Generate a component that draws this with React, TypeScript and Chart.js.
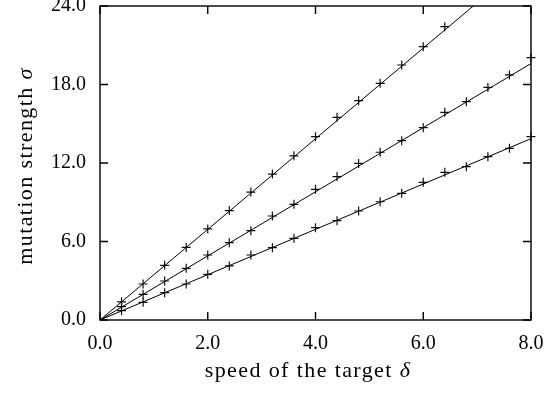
import React, { useEffect, useRef } from "react";
import { Chart, registerables } from "chart.js";

Chart.register(...registerables);

// Measured (marker) data
const xs = [0.4, 0.8, 1.2, 1.6, 2.0, 2.4, 2.8, 3.2, 3.6, 4.0, 4.4, 4.8, 5.2, 5.6, 6.0, 6.4, 6.8, 7.2, 7.6, 8.0];
const topSeries = [1.39, 2.75, 4.18, 5.55, 6.96, 8.36, 9.78, 11.15, 12.55, 14.01, 15.49, 16.76, 18.09, 19.49, 20.89, 22.42];
const midSeries = [1.02, 1.96, 2.98, 3.95, 4.97, 5.91, 6.83, 7.95, 8.84, 9.99, 10.96, 11.97, 12.82, 13.71, 14.70, 15.87, 16.69, 17.78, 18.73, 20.05];
const lowSeries = [0.71, 1.35, 2.09, 2.75, 3.49, 4.13, 4.97, 5.53, 6.24, 7.06, 7.59, 8.33, 9.04, 9.68, 10.52, 11.29, 11.72, 12.48, 13.12, 14.01];

// Fitted lines (endpoints)
const fitX = [0, 8];
const fitTop = [0, 27.71];
const fitMid = [0, 19.6];
const fitLow = [0, 13.86];

const xTicks = [0, 2, 4, 6, 8];
const yTicks = [0, 6, 12, 18, 24];

const FONT = "'Liberation Serif', 'DejaVu Serif', serif";

const pts = (x: number[], y: number[]) => y.map((v, i) => ({ x: x[i], y: v }));

const framePlugin = {
  id: "frame",
  afterDraw(chart: any) {
    const { ctx, chartArea } = chart;
    const { left, right, top, bottom } = chartArea;
    const xs = chart.scales.x;
    const ys = chart.scales.y;
    ctx.save();
    ctx.strokeStyle = "#000";
    ctx.lineWidth = 1.4;
    ctx.strokeRect(left, top, right - left, bottom - top);
    const tl = 8;
    ctx.beginPath();
    xTicks.forEach((v) => {
      const px = xs.getPixelForValue(v);
      ctx.moveTo(px, bottom);
      ctx.lineTo(px, bottom - tl);
      ctx.moveTo(px, top);
      ctx.lineTo(px, top + tl);
    });
    yTicks.forEach((v) => {
      const py = ys.getPixelForValue(v);
      ctx.moveTo(left, py);
      ctx.lineTo(left + tl, py);
      ctx.moveTo(right, py);
      ctx.lineTo(right - tl, py);
    });
    ctx.stroke();

    // axis titles with italic greek
    ctx.fillStyle = "#000";
    ctx.textBaseline = "alphabetic";
    const drawMixed = (plain: string, greek: string, size: number, spacing: number) => {
      (ctx as any).letterSpacing = `${spacing}px`;
      ctx.font = `${size}px ${FONT}`;
      const w1 = ctx.measureText(plain).width;
      ctx.font = `italic ${size}px ${FONT}`;
      const w2 = ctx.measureText(greek).width;
      const total = w1 + w2;
      ctx.font = `${size}px ${FONT}`;
      ctx.textAlign = "left";
      ctx.fillText(plain, -total / 2, 0);
      ctx.font = `italic ${size}px ${FONT}`;
      ctx.fillText(greek, -total / 2 + w1, 0);
      (ctx as any).letterSpacing = "0px";
    };
    ctx.save();
    ctx.translate(308, 377);
    drawMixed("speed of the target ", "δ", 22, 1.4);
    ctx.restore();
    ctx.save();
    ctx.translate(32, 166);
    ctx.rotate(-Math.PI / 2);
    drawMixed("mutation strength ", "σ", 22, 1.4);
    ctx.restore();
    ctx.restore();
  },
};

export default function App() {
  const ref = useRef<HTMLCanvasElement>(null);
  useEffect(() => {
    document.body.style.margin = "0";
    const lineStyle = {
      showLine: true,
      borderColor: "#000",
      borderWidth: 1,
      pointRadius: 0,
      fill: false,
    };
    const markStyle = {
      showLine: false,
      pointStyle: "cross" as const,
      pointRadius: 4.5,
      borderColor: "#111",
      pointBorderWidth: 1.2,
      clip: false as const,
    };
    const chart = new Chart(ref.current!, {
      type: "scatter",
      data: {
        datasets: [
          { data: pts(fitX, fitTop), ...lineStyle },
          { data: pts(fitX, fitMid), ...lineStyle },
          { data: pts(fitX, fitLow), ...lineStyle },
          { data: pts(xs, topSeries), ...markStyle },
          { data: pts(xs, midSeries), ...markStyle },
          { data: pts(xs, lowSeries), ...markStyle },
        ],
      },
      options: {
        animation: false,
        responsive: false,
        layout: { padding: { top: 6, right: 15, left: 0, bottom: 0 } },
        plugins: { legend: { display: false }, tooltip: { enabled: false } },
        scales: {
          x: {
            type: "linear",
            min: 0,
            max: 8,
            afterBuildTicks: (s: any) => {
              s.ticks = xTicks.map((v) => ({ value: v }));
            },
            afterFit: (s: any) => {
              s.height = 78;
              s.paddingLeft = 0;
              s.paddingRight = 0;
            },
            ticks: {
              color: "#000",
              font: { family: FONT, size: 20 },
              padding: 12,
              maxRotation: 0,
              callback: (v: any) => Number(v).toFixed(1),
            },
            grid: { display: false, drawTicks: false },
            border: { display: false },
          },
          y: {
            type: "linear",
            min: 0,
            max: 24,
            afterBuildTicks: (s: any) => {
              s.ticks = yTicks.map((v) => ({ value: v }));
            },
            afterFit: (s: any) => {
              s.width = 100;
              s.paddingTop = 0;
              s.paddingBottom = 0;
            },
            ticks: {
              color: "#000",
              font: { family: FONT, size: 20 },
              padding: 14,
              callback: (v: any) => Number(v).toFixed(1),
            },
            grid: { display: false, drawTicks: false },
            border: { display: false },
          },
        },
      },
      plugins: [framePlugin],
    });
    return () => chart.destroy();
  }, []);
  return <canvas ref={ref} width={546} height={398} style={{ display: "block" }} />;
}
